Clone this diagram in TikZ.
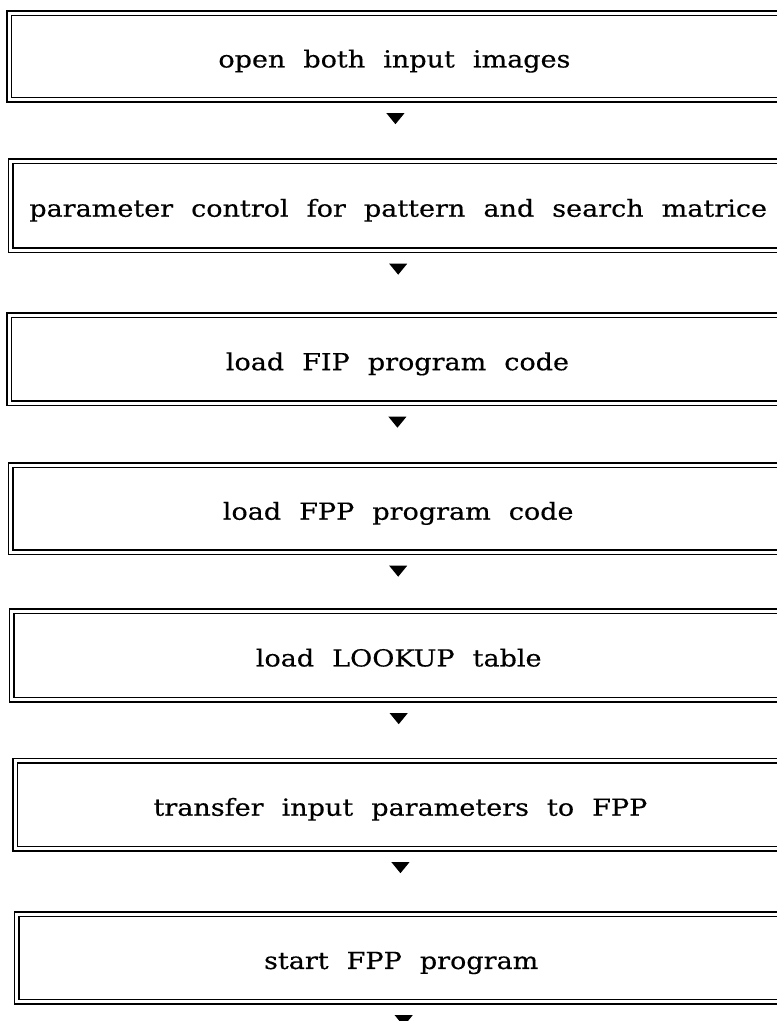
\documentclass[tikz,border=0pt]{standalone}
\usepackage{fontspec}
\setmainfont{DejaVu Serif}[FakeStretch=1.15,WordSpace=2.1,FakeBold=0.4]
\begin{document}
\begin{tikzpicture}[x=1pt,y=-1pt,
  box/.style={draw=black, line width=1.4pt, double=white, double distance=3.4pt,
    inner sep=0pt, anchor=north west, text height=22pt, text depth=0pt,
    font=\fontsize{23.5}{27}\selectfont}]
\useasboundingbox (0,0) rectangle (777,1021);
\clip (0,0) rectangle (777,1021);
% boxes: left, top, right, bottom (mid-lines)
\node[box, minimum width=770.5pt, minimum height=86.5pt] (b1) at (8.5,12.5) {open both input images};
\node[box, minimum width=775pt, minimum height=89pt] (b2) at (10,160.5) {parameter control for pattern and search matrice};
\node[box, minimum width=776.5pt, minimum height=88pt] (b3) at (8.5,314.5) {load FIP program code};
\node[box, minimum width=775pt, minimum height=87pt] (b4) at (10,464.5) {load FPP program code};
\node[box, minimum width=774pt, minimum height=88.5pt] (b5) at (11,610.5) {load LOOKUP table};
\node[box, minimum width=770.5pt, minimum height=88pt] (b6) at (14.5,760) {transfer input parameters to FPP};
\node[box, minimum width=769pt, minimum height=87.5pt] (b7) at (16,913.5) {start FPP program};
% arrowheads below each box
\foreach \b/\dx in {b1/1, b2/0, b3/0, b4/0, b5/0, b6/0, b7/2.5}{
  \fill ([xshift=\dx pt, yshift=-12.8pt]\b.south) -- ++(-9,0) -- ++(9,11) -- ++(9,-11) -- cycle;
}
\end{tikzpicture}
\end{document}
